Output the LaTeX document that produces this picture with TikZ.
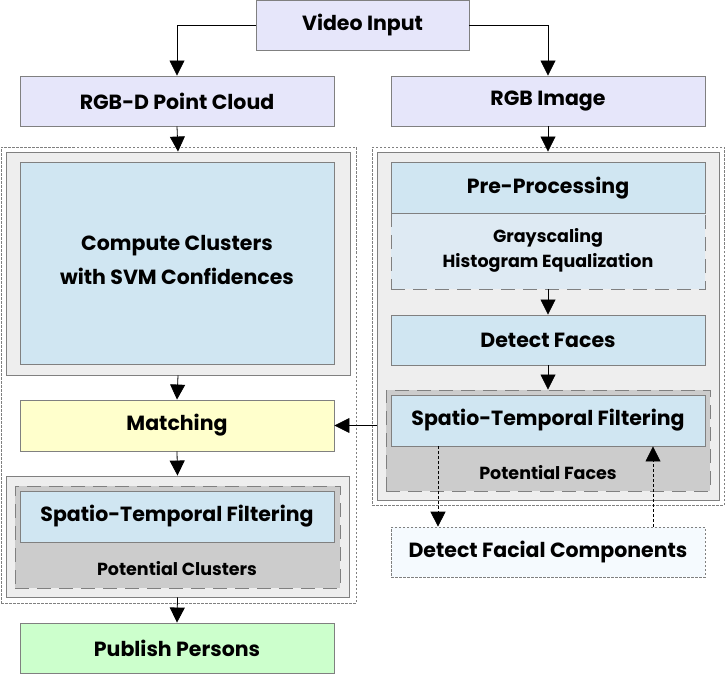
\documentclass[tikz,border=0pt]{standalone}
\usepackage{fontspec}
\setmainfont{Poppins}
\usetikzlibrary{arrows.meta,calc}
\definecolor{lav}{HTML}{E6E6FA}
\definecolor{lblue}{HTML}{D0E6F2}
\definecolor{pblue}{HTML}{DEEAF3}
\definecolor{panel}{HTML}{EEEEEE}
\definecolor{dgray}{HTML}{CCCCCC}
\definecolor{yel}{HTML}{FFFFCC}
\definecolor{grn}{HTML}{CCFFCC}
\definecolor{fc}{HTML}{F5FAFE}
\definecolor{bord}{HTML}{808080}
\tikzset{
  box/.style={draw=bord,line width=0.9pt,inner sep=0pt,font=\bfseries\fontsize{20.5}{34}\selectfont,align=center},
  small/.style={font=\bfseries\fontsize{17.5}{25}\selectfont,align=center},
  outerdot/.style={draw=bord,line width=0.7pt,dash pattern=on 2.5pt off 1.5pt},
  dashbox/.style={draw=bord,line width=0.9pt,dash pattern=on 14pt off 8pt},
  arr/.style={-{Triangle[length=15pt,width=15pt]},line width=0.8pt,black},
  darr/.style={arr,dash pattern=on 3pt off 2pt}
}
\begin{document}
\begin{tikzpicture}[x=1pt,y=-1pt]
\useasboundingbox (0,0) rectangle (726,674);
% top
\node[box,fill=lav,minimum width=213,minimum height=50] (vid) at (362.5,25) {Video Input};
\node[box,fill=lav,minimum width=314,minimum height=50] (rgbd) at (177,101) {RGB-D Point Cloud};
\node[box,fill=lav,minimum width=314,minimum height=50] (rgb) at (548,101) {RGB Image};
% left column
\node[outerdot,minimum width=355,minimum height=456,inner sep=0pt] (lo) at (178.5,375) {};
\node[draw=bord,line width=0.9pt,fill=panel,minimum width=344,minimum height=223,inner sep=0pt] (lp1) at (178,263.5) {};
\node[box,fill=lblue,minimum width=314,minimum height=202] (cc) at (177,263.5) {};
\node[box,draw=none,fill=none] (cct) at (177,260) {Compute Clusters\\with SVM Confidences};
\node[box,fill=yel,minimum width=314,minimum height=51] (match) at (177,425.5) {Matching};
\node[draw=bord,line width=0.9pt,fill=panel,minimum width=343,minimum height=121,inner sep=0pt] (lp2) at (177.5,536.5) {};
\node[dashbox,fill=dgray,minimum width=325,minimum height=102,inner sep=0pt] (ld) at (177.5,537) {};
\node[box,fill=lblue,minimum width=314,minimum height=51] (lst) at (177,516.5) {Spatio-Temporal Filtering};
\node[small] (lpc) at (177,569) {Potential Clusters};
\node[box,fill=grn,minimum width=314,minimum height=50] (pub) at (177,648) {Publish Persons};
% right column
\node[outerdot,minimum width=352,minimum height=358,inner sep=0pt] (ro) at (548,326) {};
\node[draw=bord,line width=0.9pt,fill=panel,minimum width=342,minimum height=348,inner sep=0pt] (rp) at (548,326) {};
\node[dashbox,fill=pblue,minimum width=314,minimum height=76,inner sep=0pt] (gs) at (548,251) {};
\node[small] (gst) at (548,250) {Grayscaling\\Histogram Equalization};
\node[box,fill=lblue,minimum width=314,minimum height=51] (pre) at (548,188) {Pre-Processing};
\node[box,fill=lblue,minimum width=314,minimum height=50] (det) at (548,340) {Detect Faces};
\node[dashbox,fill=dgray,minimum width=324,minimum height=101,inner sep=0pt] (rd) at (548,440.5) {};
\node[box,fill=lblue,minimum width=314,minimum height=51] (rst) at (548,420.5) {Spatio-Temporal Filtering};
\node[small] (rpf) at (548,473) {Potential Faces};
\node[box,fill=fc,minimum width=314,minimum height=50,dash pattern=on 2.5pt off 1.5pt,line width=0.7pt] (dfc) at (548,552) {Detect Facial Components};
% connectors
\draw[arr] (vid.west) -| (rgbd.north);
\draw[arr] (vid.east) -| (rgb.north);
\draw[arr] (rgbd.south) -- (lp1.north);
\draw[arr] (rgb.south) -- (rp.north);
\draw[arr] (lp1.south) -- (match.north);
\draw[arr] (match.south) -- (lp2.north);
\draw[arr] (lp2.south) -- (pub.north);
\draw[arr] (gs.south) -- (det.north);
\draw[arr] (det.south) -- (rd.north);
\draw[arr] (rp.west |- match.east) -- (match.east);
\coordinate (c1) at (438,0);
\coordinate (c2) at (653,0);
\draw[darr] (rst.south -| c1) -- (dfc.north -| c1);
\draw[darr] (dfc.north -| c2) -- (rst.south -| c2);
\end{tikzpicture}
\end{document}
